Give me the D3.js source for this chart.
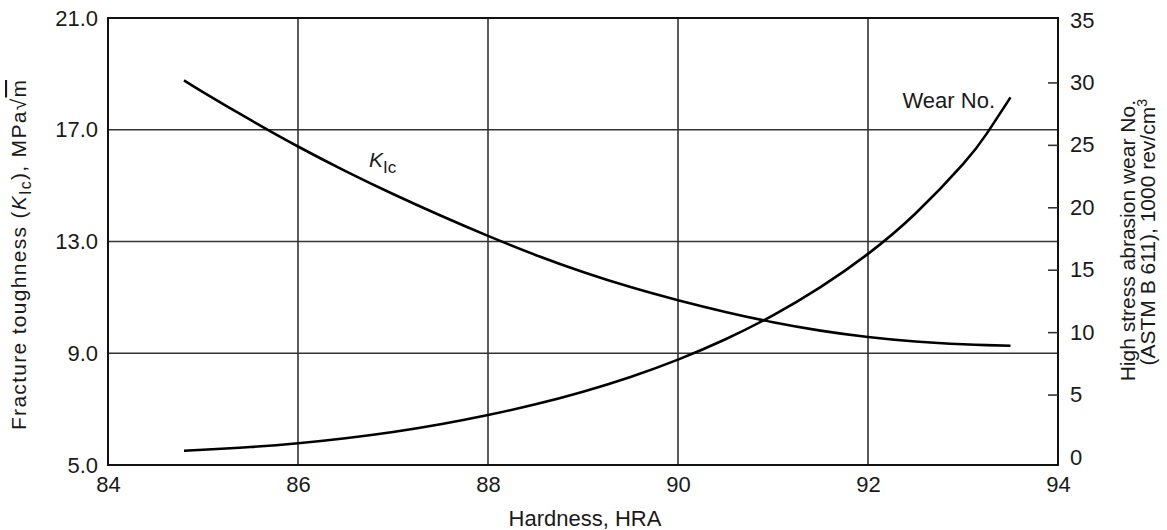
<!DOCTYPE html>
<html>
<head>
<meta charset="utf-8">
<script src="https://cdn.jsdelivr.net/npm/d3@7"></script>
<style>
  html, body { margin: 0; padding: 0; background: #fff; }
  svg { display: block; font-family: "Liberation Sans", Arial, Helvetica, sans-serif; }
  text { fill: #1a1a1a; }
</style>
</head>
<body>
<svg id="chart" width="1167" height="530"></svg>
<script>
// ---- data ----
const hardness = [84.8, 85.0, 85.5, 86.0, 86.5, 87.0, 87.5, 88.0, 88.5, 89.0, 89.5, 90.0, 90.5, 91.0, 91.5, 92.0, 92.5, 93.0, 93.25, 93.5];
const kicValues = [18.77, 18.35, 17.35, 16.40, 15.52, 14.70, 13.93, 13.20, 12.52, 11.91, 11.37, 10.90, 10.48, 10.11, 9.81, 9.58, 9.42, 9.32, 9.29, 9.27];
const wearValues = [0.50, 0.58, 0.80, 1.10, 1.50, 2.00, 2.62, 3.36, 4.22, 5.23, 6.41, 7.80, 9.43, 11.35, 13.61, 16.27, 19.5, 23.45, 25.9, 28.8];
const xTicks = [84, 86, 88, 90, 92, 94];
const leftTicks = [5, 9, 13, 17, 21];
const rightTicks = [0, 5, 10, 15, 20, 25, 30, 35];
const xGrid = [86, 88, 90, 92];
const yGrid = [9, 13, 17];

const svg = d3.select("#chart");
const x = d3.scaleLinear().domain([84, 94]).range([108, 1058]);
const yL = d3.scaleLinear().domain([5, 21]).range([465, 18]);
const yR = d3.scaleLinear().domain([0, 35]).range([457, 20]);

const FS = 22;

// grid
svg.append("g").selectAll("line").data(xGrid).join("line")
  .attr("x1", d => x(d)).attr("x2", d => x(d))
  .attr("y1", yL(21)).attr("y2", yL(5))
  .attr("stroke", "#333").attr("stroke-width", 1.6);
svg.append("g").selectAll("line").data(yGrid).join("line")
  .attr("x1", x(84)).attr("x2", x(94))
  .attr("y1", d => yL(d)).attr("y2", d => yL(d))
  .attr("stroke", "#333").attr("stroke-width", 1.6);

// frame
svg.append("rect")
  .attr("x", x(84)).attr("y", yL(21))
  .attr("width", x(94) - x(84)).attr("height", yL(5) - yL(21))
  .attr("fill", "none").attr("stroke", "#111").attr("stroke-width", 2);

// axes
const gL = svg.append("g").attr("transform", `translate(${x(84)},0)`)
  .call(d3.axisLeft(yL).tickValues(leftTicks).tickSize(0).tickPadding(10).tickFormat(d3.format(".1f")));
const gB = svg.append("g").attr("transform", `translate(0,${yL(5)})`)
  .call(d3.axisBottom(x).tickValues(xTicks).tickSize(0).tickPadding(11).tickFormat(d3.format("d")));
const gR = svg.append("g").attr("transform", `translate(${x(94)},0)`)
  .call(d3.axisRight(yR).tickValues(rightTicks).tickSizeInner(-10).tickSizeOuter(0).tickPadding(12).tickFormat(d3.format("d")));
[gL, gB, gR].forEach(g => {
  g.select(".domain").remove();
  g.selectAll("text").attr("font-size", FS).attr("fill", "#1a1a1a").attr("font-family", "Liberation Sans, Arial, sans-serif");
});
gR.selectAll(".tick line").attr("stroke", "#333").attr("stroke-width", 1.6)
  .filter(d => d === 0 || d === 35).remove();

// curves
const line = (yScale, vals) => d3.line()
  .x((d, i) => x(hardness[i]))
  .y((d, i) => yScale(vals[i]))
  .curve(d3.curveNatural)(vals);

svg.append("path").attr("d", line(yL, kicValues))
  .attr("fill", "none").attr("stroke", "#000").attr("stroke-width", 2.6);
svg.append("path").attr("d", line(yR, wearValues))
  .attr("fill", "none").attr("stroke", "#000").attr("stroke-width", 2.6);

// curve labels
const kl = svg.append("text").attr("x", 369).attr("y", 167).attr("font-size", 21);
kl.append("tspan").attr("font-style", "italic").text("K");
kl.append("tspan").attr("dy", 6).attr("font-size", 17).text("Ic");

svg.append("text").attr("x", 995).attr("y", 108).attr("text-anchor", "end")
  .attr("font-size", FS).text("Wear No.");

// axis titles
svg.append("text").attr("x", 585).attr("y", 526).attr("text-anchor", "middle")
  .attr("font-size", FS).text("Hardness, HRA");

const lt = svg.append("text").attr("transform", "translate(26,430) rotate(-90)")
  .attr("text-anchor", "start").attr("font-size", 21)
  .attr("textLength", 350).attr("lengthAdjust", "spacing");
lt.append("tspan").text("Fracture toughness (");
lt.append("tspan").attr("font-style", "italic").text("K");
lt.append("tspan").attr("dy", 5).attr("font-size", 16).text("Ic");
lt.append("tspan").attr("dy", -5).text("), MPa\u221A");
lt.append("tspan").attr("text-decoration", "overline").text("m");

svg.append("text").attr("transform", "translate(1135,100) rotate(-90)")
  .attr("text-anchor", "end").attr("font-size", 21).text("High stress abrasion wear No.");
const rt2 = svg.append("text").attr("transform", "translate(1155,99) rotate(-90)")
  .attr("text-anchor", "end").attr("font-size", 21);
rt2.append("tspan").text("(ASTM B 611), 1000 rev/cm");
rt2.append("tspan").attr("dy", -8).attr("font-size", 14).text("3");
</script>
</body>
</html>
